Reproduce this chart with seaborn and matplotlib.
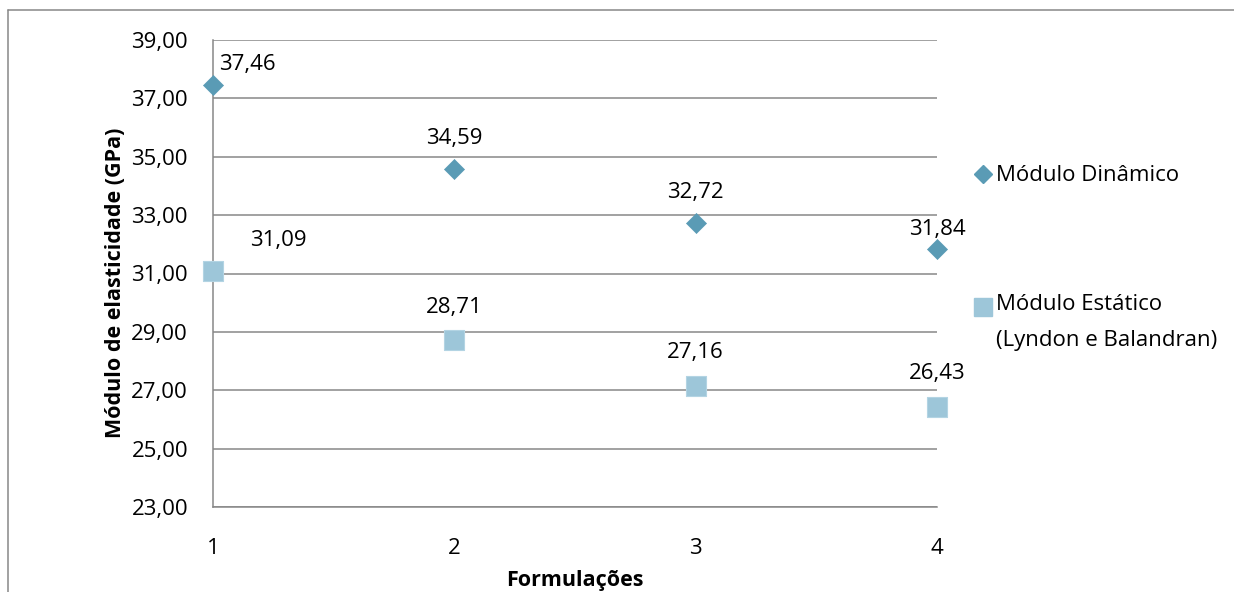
import matplotlib
matplotlib.use("Agg")
import matplotlib.pyplot as plt
from matplotlib.lines import Line2D
import seaborn as sns
import pandas as pd

formulacoes = [1, 2, 3, 4]
modulo_dinamico = [37.46, 34.59, 32.72, 31.84]
modulo_estatico = [31.09, 28.71, 27.16, 26.43]
y_ticks = [23, 25, 27, 29, 31, 33, 35, 37, 39]
nome_dinamico = "Módulo Dinâmico"
nome_estatico = "Módulo Estático\n(Lyndon e Balandran)"

cor_dinamico = "#5A9BB5"
cor_estatico = "#9DC6D9"
cor_grade = "#878787"
FS = 16

sns.set_theme(style="white")
plt.rcParams["font.family"] = ["Open Sans", "DejaVu Sans"]
plt.rcParams["text.color"] = "black"

W, H = 1234, 592
fig = plt.figure(figsize=(W / 100, H / 100), dpi=100)
ax = fig.add_axes([213 / W, 1 - 507 / H, (937 - 213) / W, (507 - 40) / H])

df = pd.DataFrame({"x": formulacoes, "din": modulo_dinamico, "est": modulo_estatico})
sns.scatterplot(data=df, x="x", y="din", marker="D", s=10.2 ** 2, color=cor_dinamico,
                edgecolor=cor_dinamico, linewidth=0.5, ax=ax, zorder=4, clip_on=False)
sns.scatterplot(data=df, x="x", y="est", marker="s", s=14.4 ** 2, color=cor_estatico,
                edgecolor="#B3D4E3", linewidth=0.8, ax=ax, zorder=4, clip_on=False)

ax.set_xlim(1, 4)
ax.set_ylim(23, 39)
ax.set_xticks(formulacoes)
ax.set_xticklabels([str(v) for v in formulacoes])
ax.set_yticks(y_ticks)
ax.set_yticklabels([f"{v:.2f}".replace(".", ",") for v in y_ticks])
ax.tick_params(axis="both", length=0, labelsize=FS, colors="black")
ax.tick_params(axis="y", pad=18)
ax.tick_params(axis="x", pad=22)
ax.grid(axis="y", color=cor_grade, linewidth=1.1)
ax.set_axisbelow(True)
for side in ["top", "right"]:
    ax.spines[side].set_visible(False)
for side in ["left", "bottom"]:
    ax.spines[side].set_color(cor_grade)
    ax.spines[side].set_linewidth(1.1)

ax.set_xlabel("Formulações", fontsize=15.5, fontweight="bold", labelpad=8, color="black")
ax.set_ylabel("Módulo de elasticidade (GPa)", fontsize=15.5, fontweight="bold",
              color="black")
ax.yaxis.set_label_coords(-0.12, 0.48)

# value labels (offsets in points from each marker)
off_din = [(25, 15), (0, 22), (0, 22), (0, 14)]
off_est = [(47, 22), (0, 24), (0, 24), (0, 24)]
for serie, offs in [(modulo_dinamico, off_din), (modulo_estatico, off_est)]:
    for x, y, o in zip(formulacoes, serie, offs):
        ax.annotate(f"{y:.2f}".replace(".", ","), (x, y), xytext=o,
                    textcoords="offset points", ha="center", va="center",
                    fontsize=FS, color="black")

# legend entries, drawn in figure pixels
def px(x, y):
    return x / W, 1 - y / H

for (mx, my), mk, ms, cor, (tx, ty), txt in [
    ((983, 174), "D", 9.5, cor_dinamico, (996, 177), nome_dinamico),
    ((983, 307), "s", 13, cor_estatico, (996, 306), nome_estatico),
]:
    fig.add_artist(Line2D([mx / W], [1 - my / H], marker=mk, markersize=ms,
                          color=cor, linestyle="none", transform=fig.transFigure))
    tx_, ty_ = px(tx, ty - 12)
    fig.text(tx_, ty_, txt, fontsize=FS, ha="left", va="top", linespacing=1.95)

# outer chart frame
fig.add_artist(Line2D([8 / W, 1], [1 - 10 / H, 1 - 10 / H], color=cor_grade, linewidth=1.1,
                      transform=fig.transFigure))
fig.add_artist(Line2D([8 / W, 8 / W], [0, 1 - 10 / H], color=cor_grade, linewidth=1.1,
                      transform=fig.transFigure))

fig.savefig("out.png", dpi=100, facecolor="white")
